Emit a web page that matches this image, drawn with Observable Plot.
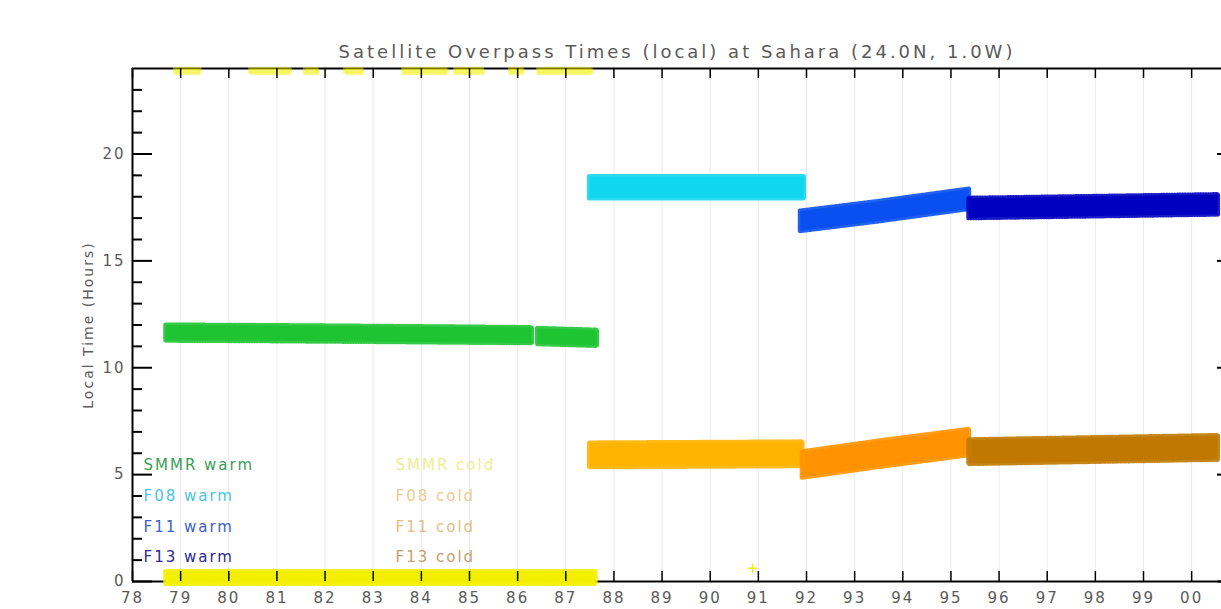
<!DOCTYPE html>
<html><head><meta charset="utf-8">
<script src="https://cdn.jsdelivr.net/npm/d3@7"></script>
<script src="https://cdn.jsdelivr.net/npm/@observablehq/plot@0.6"></script>
<style>html,body{margin:0;padding:0;background:#fff;overflow:hidden}</style>
</head><body><div id="chart"></div>
<script>
// ---- text ----
const titleText = "Satellite Overpass Times (local) at Sahara (24.0N, 1.0W)";
const yLabel = "Local Time (Hours)";

// ---- tick values ----
const yearTicks = [1978,1979,1980,1981,1982,1983,1984,1985,1986,1987,1988,1989,1990,1991,1992,1993,1994,1995,1996,1997,1998,1999,2000];
const hourMajorTicks = [0,5,10,15,20];
const hourMinorTicks = [1,2,3,4,6,7,8,9,11,12,13,14,16,17,18,19,21,22,23];

// ---- series ----
const seriesNames  = ["SMMR warm","F08 warm","F11 warm","F13 warm","SMMR cold","F08 cold","F11 cold","F13 cold"];
const seriesColors = ["#1ec432","#12d6ee","#0a4ff0","#0000c0","#f2f000","#ffb400","#ff9200","#c07800"];
const legendColors = ["#3a9e55","#4cc4e0","#3c62c8","#2a2a90","#eeee90","#e8cc90","#e4bc84","#c4a070"];
// half spread (hours) of each band
const bandHalf = [0.36,0.50,0.46,0.46,0.28,0.56,0.60,0.56];

const smmrWarmYears1 = [1978.70,1980.50,1983.00,1986.30];
const smmrWarmHours1 = [11.62,11.60,11.56,11.50];
const smmrWarmYears2 = [1986.42,1987.65];
const smmrWarmHours2 = [11.46,11.38];
const f08WarmYears = [1987.50,1991.95];
const f08WarmHours = [18.42,18.42];
const f11WarmYears = [1991.88,1993.5,1995.38];
const f11WarmHours = [16.85,17.30,17.88];
const f13WarmYears = [1995.38,2000.55];
const f13WarmHours = [17.45,17.62];

const smmrColdYears = [1978.70,1987.62];
const smmrColdHours = [0.16,0.16];
const smmrColdTopStart = [1978.89,1980.45,1981.59,1982.42,1983.63,1984.71,1985.85,1986.43];
const smmrColdTopEnd   = [1979.41,1981.28,1981.86,1982.78,1984.54,1985.29,1986.12,1987.55];
const smmrColdTopHour  = 23.86;
const smmrStrayYear = [1990.88];
const smmrStrayHour = [0.62];
const f08ColdYears = [1987.50,1991.92];
const f08ColdHours = [5.90,5.95];
const f11ColdYears = [1991.92,1993.5,1995.38];
const f11ColdHours = [5.45,5.95,6.50];
const f13ColdYears = [1995.38,2000.55];
const f13ColdHours = [6.05,6.25];

// ---- build rows ----
function band(si, seg, ys, hs, half) {
  const h = half ?? bandHalf[si];
  return ys.map((x, i) => ({name: seriesNames[si], seg, year: x, lo: hs[i] - h, hi: hs[i] + h}));
}
const rows = [
  ...band(0, "a", smmrWarmYears1, smmrWarmHours1),
  ...band(0, "b", smmrWarmYears2, smmrWarmHours2),
  ...band(1, "a", f08WarmYears, f08WarmHours),
  ...band(2, "a", f11WarmYears, f11WarmHours),
  ...band(3, "a", f13WarmYears, f13WarmHours),
  ...band(4, "a", smmrColdYears, smmrColdHours),
  ...band(5, "a", f08ColdYears, f08ColdHours),
  ...band(6, "a", f11ColdYears, f11ColdHours),
  ...band(7, "a", f13ColdYears, f13ColdHours)
];
const topRows = smmrColdTopStart.flatMap((s, i) => band(4, "t" + i, [s, smmrColdTopEnd[i]], [smmrColdTopHour, smmrColdTopHour], 0.1));
const stray = smmrStrayYear.map((x, i) => ({year: x, hour: smmrStrayHour[i]}));

const W = 1221, H = 609, ML = 132, MR = 0, MT = 68, MB = 28;
const PW = W - ML - MR, PH = H - MT - MB;
const textGrey = "#5a5a5a";

const legendMarks = [];
for (let i = 0; i < 4; i++) {
  legendMarks.push(Plot.text([seriesNames[i]], {text: d => d, frameAnchor: "bottom-left", dx: 11, dy: -(116 - i * 30.7), textAnchor: "start", lineAnchor: "middle", fill: legendColors[i], fontSize: 15}));
  legendMarks.push(Plot.text([seriesNames[i + 4]], {text: d => d, frameAnchor: "bottom-left", dx: 263, dy: -(116 - i * 30.7), textAnchor: "start", lineAnchor: "middle", fill: legendColors[i + 4], fontSize: 15}));
}

const chart = Plot.plot({
  width: W, height: H,
  marginLeft: ML, marginRight: MR, marginTop: MT, marginBottom: MB,
  style: {fontFamily: "DejaVu Sans", background: "#fff", overflow: "visible", letterSpacing: "2px"},
  x: {domain: [1978, 2000.62], label: null, axis: null},
  y: {domain: [0, 24], label: null, axis: null},
  color: {domain: seriesNames, range: seriesColors},
  marks: [
    // faint year grid
    Plot.ruleX(yearTicks, {stroke: "#ebebeb", strokeWidth: 1}),
    // frame
    Plot.ruleY([0, 24], {stroke: "#000", strokeWidth: 2}),
    Plot.ruleX([1978], {stroke: "#000", strokeWidth: 2}),
    // data bands (filled core + hairy edge)
    Plot.areaY(rows, {x: "year", y1: "lo", y2: "hi", z: d => d.name + d.seg, fill: "name"}),
    Plot.areaY(rows, {x: "year", y1: "lo", y2: "hi", z: d => d.name + d.seg, fill: "none", stroke: "name", strokeWidth: 5, strokeOpacity: 0.9, strokeDasharray: "1 1.6"}),
    Plot.areaY(topRows, {x: "year", y1: "lo", y2: "hi", z: "seg", fill: "name", fillOpacity: 0.45, stroke: "name", strokeWidth: 4, strokeOpacity: 0.45, strokeDasharray: "2 3"}),
    Plot.dot(stray, {x: "year", y: "hour", symbol: "plus", r: 3, stroke: seriesColors[4], strokeWidth: 1.5}),
    // x ticks bottom & top (inward)
    Plot.ruleX(yearTicks, {stroke: "#000", strokeWidth: 1.5, insetTop: PH - 10}),
    Plot.ruleX(yearTicks, {stroke: "#000", strokeWidth: 1.5, insetBottom: PH - 10}),
    // y ticks left (major/minor) & right (clipped edge)
    Plot.ruleY(hourMajorTicks, {stroke: "#000", strokeWidth: 2, insetRight: PW - 20}),
    Plot.ruleY(hourMinorTicks, {stroke: "#000", strokeWidth: 2, insetRight: PW - 10}),
    Plot.ruleY(hourMajorTicks, {stroke: "#000", strokeWidth: 2, insetLeft: PW - 4}),
    // tick labels
    Plot.axisX(yearTicks, {tickSize: 0, tickPadding: 11, fontSize: 15, color: textGrey, tickFormat: d => String(d % 100).padStart(2, "0"), label: null}),
    Plot.axisY(hourMajorTicks, {tickSize: 0, tickPadding: 7, fontSize: 15, color: textGrey, label: null}),
    // legend
    ...legendMarks,
    // title & y label
    Plot.text([titleText], {text: d => d, frameAnchor: "top", dy: -23, fontSize: 18, fill: textGrey}),
    Plot.text([yLabel], {text: d => d, frameAnchor: "left", dx: -44, rotate: -90, textAnchor: "middle", fontSize: 14, fill: textGrey})
  ]
});
document.getElementById("chart").appendChild(chart);
d3.select(chart).selectAll("text").filter(function () { return this.textContent === titleText; }).style("letter-spacing", "3px");
</script>
</body></html>
